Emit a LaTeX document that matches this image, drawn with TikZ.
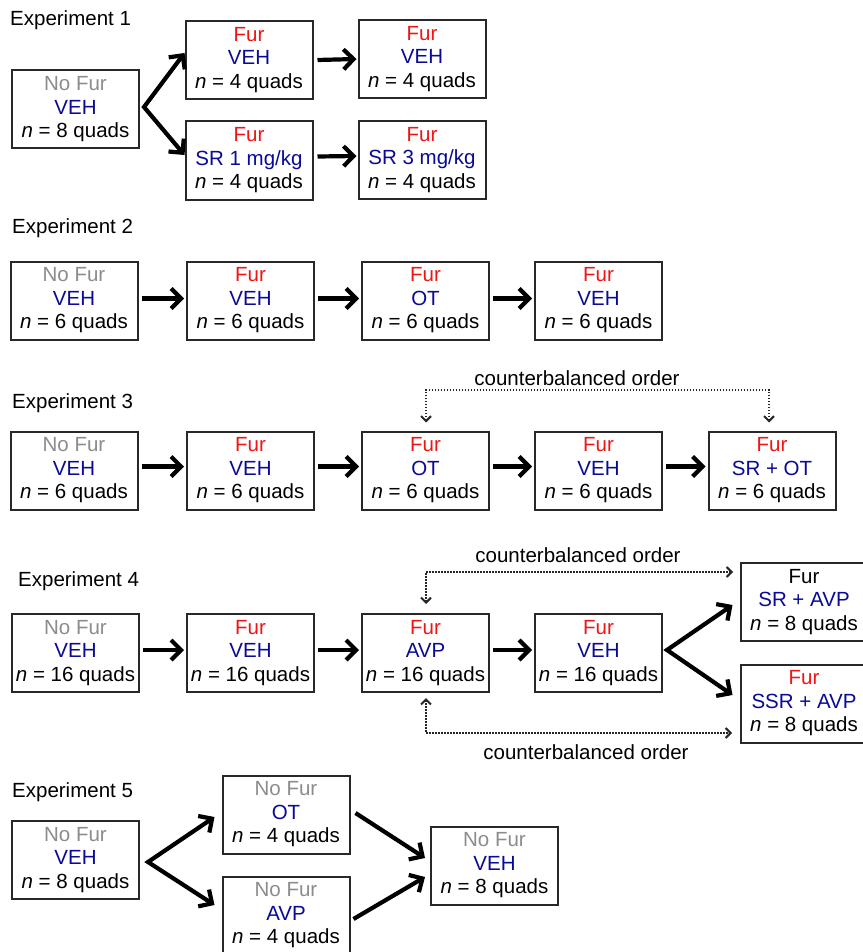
\documentclass[tikz,border=0pt]{standalone}
\usepackage{fontspec}
\setmainfont{Liberation Sans}
\usetikzlibrary{arrows.meta,calc}
\definecolor{furred}{RGB}{240,20,20}
\definecolor{vehblue}{RGB}{10,10,150}
\definecolor{nofur}{RGB}{140,140,140}
\definecolor{boxline}{RGB}{40,40,40}
\newcommand\cellt[4]{\textcolor{#1}{#2}\\\textcolor{vehblue}{#3}\\\textit{n} = #4 quads}
\tikzset{
  cellbox/.style={draw=boxline, line width=2pt, minimum width=127pt, minimum height=78pt,
    inner sep=0pt, align=center, font=\fontsize{20.5}{23.5}\selectfont, fill=white},
  bigarrow/.style={line width=4.2pt, line join=miter, -{Straight Barb[length=10pt,width=20pt]}},
  bigvee/.style={line width=4.2pt, line join=miter, {Straight Barb[length=10pt,width=20pt]}-{Straight Barb[length=10pt,width=20pt]}},
  cbarrow/.style={line width=2pt, black!85, dash pattern=on 1.5pt off 1.5pt,
    {Straight Barb[length=5pt,width=10pt]}-{Straight Barb[length=5pt,width=10pt]}},
  explabel/.style={anchor=west, inner sep=0pt, font=\fontsize{20.5}{23}\selectfont},
  cblabel/.style={inner sep=0pt, font=\fontsize{20.5}{23}\selectfont}
}
\begin{document}
\begin{tikzpicture}[x=1pt,y=-1pt]
\useasboundingbox[fill=white] (0,0) rectangle (862,952);

% Experiment 1
\node[explabel] (l1) at (10,20) {Experiment 1};
\node[cellbox] (e1a) at (75.5,109.5) {\cellt{nofur}{No Fur}{VEH}{8}};
\node[cellbox] (e1b) at (249,60) {\cellt{furred}{Fur}{VEH}{4}};
\node[cellbox] (e1c) at (422,59) {\cellt{furred}{Fur}{VEH}{4}};
\node[cellbox] (e1d) at (249,160.5) {\cellt{furred}{Fur}{SR 1 mg/kg}{4}};
\node[cellbox] (e1e) at (422,160) {\cellt{furred}{Fur}{SR 3 mg/kg}{4}};
\coordinate (p1) at ([xshift=4pt,yshift=2.5pt]e1a.east);
\draw[bigvee] ([yshift=7pt]e1b.west) -- (p1) -- ([yshift=5.5pt]e1d.west);
\draw[bigarrow] ([xshift=4pt]e1b.east) -- ([xshift=-1pt]e1c.west);
\draw[bigarrow] ([xshift=4pt,yshift=4pt]e1d.east) -- ([xshift=-1pt,yshift=4pt]e1e.west);

% Experiment 2
\node[explabel] (l2) at (12,228) {Experiment 2};
\node[cellbox] (e2a) at (74,300.5) {\cellt{nofur}{No Fur}{VEH}{6}};
\node[cellbox] (e2b) at (250.5,300.5) {\cellt{furred}{Fur}{VEH}{6}};
\node[cellbox] (e2c) at (425.5,300.5) {\cellt{furred}{Fur}{OT}{6}};
\node[cellbox] (e2d) at (598.5,300.5) {\cellt{furred}{Fur}{VEH}{6}};
\draw[bigarrow] ([xshift=3pt,yshift=2pt]e2a.east) -- ([xshift=-2pt,yshift=2pt]e2b.west);
\draw[bigarrow] ([xshift=3pt,yshift=2pt]e2b.east) -- ([xshift=-2pt,yshift=2pt]e2c.west);
\draw[bigarrow] ([xshift=3pt,yshift=2pt]e2c.east) -- ([xshift=-2pt,yshift=2pt]e2d.west);

% Experiment 3
\node[explabel] (l3) at (12,403) {Experiment 3};
\node[cellbox] (e3a) at (74,470.5) {\cellt{nofur}{No Fur}{VEH}{6}};
\node[cellbox] (e3b) at (250.5,470.5) {\cellt{furred}{Fur}{VEH}{6}};
\node[cellbox] (e3c) at (425.5,470.5) {\cellt{furred}{Fur}{OT}{6}};
\node[cellbox] (e3d) at (598.5,470.5) {\cellt{furred}{Fur}{VEH}{6}};
\node[cellbox] (e3e) at (772,470.5) {\cellt{furred}{Fur}{SR + OT}{6}};
\draw[bigarrow] ([xshift=3pt,yshift=4pt]e3a.east) -- ([xshift=-2pt,yshift=4pt]e3b.west);
\draw[bigarrow] ([xshift=3pt,yshift=4pt]e3b.east) -- ([xshift=-2pt,yshift=4pt]e3c.west);
\draw[bigarrow] ([xshift=3pt,yshift=4pt]e3c.east) -- ([xshift=-2pt,yshift=4pt]e3d.west);
\draw[bigarrow] ([xshift=3pt,yshift=4pt]e3d.east) -- ([xshift=-2pt,yshift=4pt]e3e.west);
\node[cblabel] (cb3) at (577,378) {counterbalanced order};
\coordinate (c3a) at (426,390);
\coordinate (c3b) at (769,390);
\draw[cbarrow, shorten <=8pt, shorten >=8pt] (c3a |- e3c.north) -- (c3a) -- (c3b) -- (c3b |- e3e.north);

% Experiment 4
\node[explabel] (l4) at (18,581) {Experiment 4};
\node[cellbox] (e4a) at (75.5,653) {\cellt{nofur}{No Fur}{VEH}{16}};
\node[cellbox] (e4b) at (250.5,653) {\cellt{furred}{Fur}{VEH}{16}};
\node[cellbox] (e4c) at (425.5,653) {\cellt{furred}{Fur}{AVP}{16}};
\node[cellbox] (e4d) at (598.5,653) {\cellt{furred}{Fur}{VEH}{16}};
\node[cellbox] (e4e) at (804,602) {\cellt{black}{Fur}{SR + AVP}{8}};
\node[cellbox] (e4f) at (804,703.5) {\cellt{furred}{Fur}{SSR + AVP}{8}};
\draw[bigarrow] ([xshift=3pt,yshift=3pt]e4a.east) -- ([xshift=-2pt,yshift=3pt]e4b.west);
\draw[bigarrow] ([xshift=3pt,yshift=3pt]e4b.east) -- ([xshift=-2pt,yshift=3pt]e4c.west);
\draw[bigarrow] ([xshift=3pt,yshift=3pt]e4c.east) -- ([xshift=-2pt,yshift=3pt]e4d.west);
\coordinate (p4) at ([xshift=4pt,yshift=3pt]e4d.east);
\draw[bigvee] ([xshift=-7pt,yshift=-3pt]e4e.west) -- (p4) -- ([xshift=-7pt,yshift=8.5pt]e4f.west);
\node[cblabel] (cb4a) at (578,555) {counterbalanced order};
\node[cblabel] (cb4b) at (586,752) {counterbalanced order};
\coordinate (c4a) at (426,572);
\coordinate (c4b) at (733,572);
\coordinate (c4c) at (426,733);
\coordinate (c4d) at (732,733);
\draw[cbarrow, shorten >=9pt] (c4b) -- (c4a) -- (c4a |- e4c.north);
\draw[cbarrow, shorten <=5pt] (c4c |- e4c.south) -- (c4c) -- (c4d);

% Experiment 5
\node[explabel] (l5) at (12,792) {Experiment 5};
\node[cellbox] (e5a) at (75.5,860) {\cellt{nofur}{No Fur}{VEH}{8}};
\node[cellbox] (e5b) at (286,814.5) {\cellt{nofur}{No Fur}{OT}{4}};
\node[cellbox] (e5c) at (286,915.5) {\cellt{nofur}{No Fur}{AVP}{4}};
\node[cellbox] (e5d) at (494.5,865.5) {\cellt{nofur}{No Fur}{VEH}{8}};
\coordinate (p5) at ([xshift=8pt,yshift=-2pt]e5a.east);
\draw[bigvee] ([xshift=-7pt,yshift=-2.5pt]e5b.west) -- (p5) -- ([xshift=-7pt,yshift=10.5pt]e5c.west);
\draw[bigarrow] ([xshift=5pt,yshift=1.5pt]e5b.east) -- ([xshift=-5pt,yshift=7.5pt]e5d.west);
\draw[bigarrow] ([xshift=3pt,yshift=-3.5pt]e5c.east) -- ([xshift=-5pt,yshift=-11.5pt]e5d.west);
\end{tikzpicture}
\end{document}
